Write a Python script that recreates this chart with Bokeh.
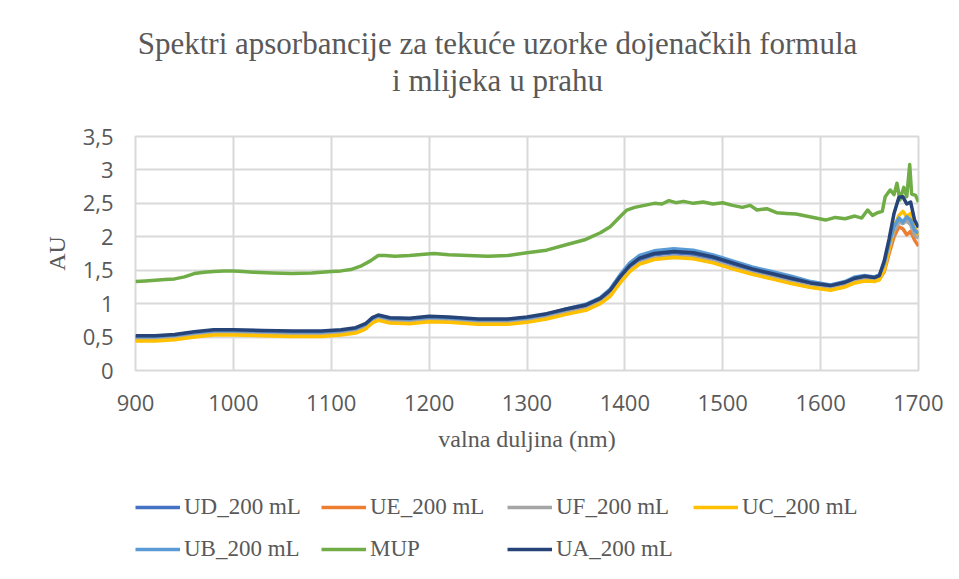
from bokeh.plotting import figure
from bokeh.models import Range1d, FixedTicker, Legend, LegendItem, Label
from bokeh.layouts import column
from bokeh.embed import file_html
from bokeh.resources import INLINE

# ---------------- data ----------------
wavelength = [900, 920, 940, 960, 980, 1000, 1030, 1060, 1090, 1110, 1125, 1135, 1142, 1148,
              1160, 1180, 1200, 1220, 1250, 1280, 1300, 1320, 1340, 1360, 1375, 1385, 1395,
              1405, 1415, 1430, 1450, 1470, 1490, 1510, 1530, 1550, 1570, 1590, 1610, 1625,
              1635, 1645, 1655, 1660, 1665, 1670, 1675, 1680, 1684, 1688, 1692, 1696, 1700]

ua_200 = [0.52, 0.52, 0.54, 0.58, 0.61, 0.61, 0.60, 0.59, 0.59, 0.61, 0.64, 0.70, 0.79, 0.83,
          0.79, 0.78, 0.81, 0.80, 0.77, 0.77, 0.80, 0.85, 0.92, 0.98, 1.08, 1.20, 1.40,
          1.57, 1.68, 1.75, 1.78, 1.76, 1.70, 1.61, 1.52, 1.45, 1.38, 1.31, 1.27, 1.32,
          1.38, 1.41, 1.39, 1.42, 1.64, 1.97, 2.35, 2.59, 2.60, 2.49, 2.52, 2.25, 2.14]

ub_200 = [0.51, 0.51, 0.53, 0.57, 0.60, 0.60, 0.59, 0.58, 0.58, 0.60, 0.63, 0.69, 0.78, 0.82,
          0.78, 0.77, 0.80, 0.79, 0.76, 0.76, 0.79, 0.84, 0.92, 0.99, 1.09, 1.22, 1.43,
          1.61, 1.72, 1.79, 1.82, 1.80, 1.73, 1.64, 1.55, 1.48, 1.41, 1.33, 1.28, 1.33,
          1.40, 1.42, 1.40, 1.43, 1.60, 1.90, 2.15, 2.28, 2.22, 2.30, 2.25, 2.10, 2.05]

ud_200 = [0.50, 0.50, 0.52, 0.56, 0.59, 0.59, 0.58, 0.57, 0.57, 0.59, 0.62, 0.68, 0.77, 0.81,
          0.77, 0.76, 0.79, 0.78, 0.75, 0.75, 0.78, 0.83, 0.90, 0.96, 1.06, 1.18, 1.38,
          1.55, 1.66, 1.73, 1.76, 1.74, 1.68, 1.59, 1.50, 1.43, 1.36, 1.29, 1.25, 1.30,
          1.36, 1.39, 1.37, 1.41, 1.58, 1.88, 2.12, 2.25, 2.20, 2.28, 2.22, 2.05, 2.00]

uf_200 = [0.46, 0.46, 0.48, 0.52, 0.55, 0.55, 0.54, 0.53, 0.53, 0.55, 0.58, 0.64, 0.73, 0.77,
          0.73, 0.72, 0.75, 0.74, 0.71, 0.71, 0.74, 0.79, 0.86, 0.92, 1.02, 1.13, 1.33,
          1.50, 1.61, 1.68, 1.71, 1.69, 1.63, 1.54, 1.46, 1.39, 1.32, 1.26, 1.22, 1.27,
          1.33, 1.36, 1.35, 1.38, 1.52, 1.82, 2.08, 2.22, 2.20, 2.24, 2.18, 2.02, 1.98]

ue_200 = [0.455, 0.455, 0.475, 0.515, 0.545, 0.545, 0.535, 0.525, 0.525, 0.545, 0.575, 0.635,
          0.725, 0.765, 0.725, 0.715, 0.745, 0.735, 0.705, 0.705, 0.735, 0.785, 0.855, 0.915,
          1.01, 1.12, 1.32, 1.49, 1.60, 1.67, 1.70, 1.68, 1.62, 1.53, 1.45, 1.38, 1.31, 1.25,
          1.21, 1.26, 1.32, 1.35, 1.34, 1.36, 1.48, 1.75, 2.00, 2.15, 2.12, 2.03, 2.08, 1.95, 1.86]

uc_200 = [0.44, 0.44, 0.46, 0.50, 0.53, 0.53, 0.52, 0.51, 0.51, 0.53, 0.56, 0.62, 0.71, 0.75,
          0.71, 0.70, 0.73, 0.72, 0.69, 0.69, 0.72, 0.77, 0.84, 0.90, 1.00, 1.11, 1.31,
          1.48, 1.59, 1.66, 1.69, 1.67, 1.61, 1.52, 1.44, 1.37, 1.30, 1.24, 1.20, 1.25,
          1.31, 1.34, 1.33, 1.36, 1.50, 1.82, 2.15, 2.32, 2.38, 2.30, 2.35, 2.15, 2.02]

mup_wavelength = [900, 910, 920, 930, 940, 950, 960, 970, 980, 990, 1000, 1010, 1020, 1040,
                  1060, 1080, 1100, 1110, 1120, 1130, 1140, 1148, 1155, 1165, 1180, 1195, 1205,
                  1220, 1240, 1260, 1280, 1300, 1320, 1340, 1360, 1375, 1385, 1395, 1402, 1410,
                  1420, 1430, 1438, 1445, 1452, 1460, 1470, 1480, 1490, 1500, 1510, 1520, 1528,
                  1535, 1545, 1555, 1565, 1575, 1585, 1595, 1605, 1615, 1625, 1635, 1642, 1648,
                  1653, 1658, 1663, 1666, 1671, 1675, 1678, 1681, 1685, 1688, 1691, 1693, 1697,
                  1700]
mup = [1.33, 1.34, 1.35, 1.36, 1.37, 1.40, 1.45, 1.47, 1.48, 1.49, 1.49, 1.48, 1.47, 1.46,
       1.45, 1.46, 1.48, 1.49, 1.51, 1.56, 1.64, 1.72, 1.72, 1.71, 1.72, 1.74, 1.75,
       1.73, 1.72, 1.71, 1.72, 1.76, 1.80, 1.88, 1.96, 2.06, 2.15, 2.30, 2.40, 2.44,
       2.47, 2.50, 2.49, 2.54, 2.51, 2.53, 2.50, 2.52, 2.49, 2.51, 2.47, 2.44, 2.47,
       2.40, 2.42, 2.36, 2.35, 2.34, 2.31, 2.28, 2.25, 2.29, 2.27, 2.31, 2.28, 2.40,
       2.32, 2.36, 2.38, 2.60, 2.70, 2.63, 2.80, 2.55, 2.74, 2.60, 3.08, 2.64, 2.62,
       2.52]

x_ticks = [900, 1000, 1100, 1200, 1300, 1400, 1500, 1600, 1700]
y_ticks = [0, 0.5, 1, 1.5, 2, 2.5, 3, 3.5]
y_tick_labels = ["0", "0,5", "1", "1,5", "2", "2,5", "3", "3,5"]

title_lines = ["Spektri apsorbancije za tekuće uzorke dojenačkih formula", "i mlijeka u prahu"]
x_title = "valna duljina (nm)"
y_title = "AU"

# ---------------- style ----------------
TEXT = "#595959"
GRID = "#d9d9d9"
SERIF = "Liberation Serif"
W = 943
FRAME_L, FRAME_R = 135, 918   # frame edges in page pixels (shared by the stacked figures)

# ---------------- title strip ----------------
TH = 120
pt = figure(width=W, height=TH, output_backend="svg", toolbar_location=None,
            x_range=Range1d(FRAME_L, FRAME_R), y_range=Range1d(0, TH),
            x_axis_type=None, y_axis_type=None, min_border=0)
pt.outline_line_color = None
pt.grid.visible = False
for text, yy in ((title_lines[0], TH - 43), (title_lines[1], TH - 80)):
    pt.add_layout(Label(x=497, y=yy, text=text, text_align="center",
                        text_baseline="middle", text_font=SERIF, text_font_size="31px",
                        text_color=TEXT))

# ---------------- main chart ----------------
p = figure(width=W, height=350, output_backend="svg", toolbar_location=None,
           x_range=Range1d(900, 1700), y_range=Range1d(0, 3.5),
           min_border_left=FRAME_L, min_border_right=W - FRAME_R, min_border_top=16,
           min_border_bottom=100)
p.background_fill_color = "white"
p.border_fill_color = "white"
p.outline_line_color = GRID
p.outline_line_width = 2

p.xaxis.ticker = FixedTicker(ticks=x_ticks)
p.yaxis.ticker = FixedTicker(ticks=y_ticks)
p.yaxis.major_label_overrides = {t: l for t, l in zip(y_ticks, y_tick_labels)}

for ax in (p.xaxis, p.yaxis):
    ax.axis_line_color = None
    ax.major_tick_line_color = None
    ax.minor_tick_line_color = None
    ax.major_tick_out = 0
    ax.major_tick_in = 0
    ax.major_label_text_font = "Open Sans"
    ax.major_label_text_font_size = "22px"
    ax.major_label_text_color = TEXT
    ax.axis_label_text_font = SERIF
    ax.axis_label_text_font_size = "24px"
    ax.axis_label_text_font_style = "normal"
    ax.axis_label_text_color = TEXT

p.xaxis.axis_label = x_title
p.yaxis.axis_label = y_title
p.xaxis.major_label_standoff = 24
p.yaxis.major_label_standoff = 22
p.xaxis.axis_label_standoff = 12
p.yaxis.axis_label_standoff = 10

p.xgrid.grid_line_color = GRID
p.ygrid.grid_line_color = GRID
p.xgrid.grid_line_width = 2
p.ygrid.grid_line_width = 2

LW = 3.5
series = [
    ("UD_200 mL", wavelength, ud_200, "#4472C4"),
    ("UE_200 mL", wavelength, ue_200, "#ED7D31"),
    ("UF_200 mL", wavelength, uf_200, "#A5A5A5"),
    ("UC_200 mL", wavelength, uc_200, "#FFC000"),
    ("UB_200 mL", wavelength, ub_200, "#5B9BD5"),
    ("MUP", mup_wavelength, mup, "#70AD47"),
    ("UA_200 mL", wavelength, ua_200, "#264478"),
]
for name, xs, ys, col in series:
    p.line(xs, ys, line_color=col, line_width=LW, line_join="round")

# ---------------- legend strip ----------------
LH = 93
pl = figure(width=W, height=LH, output_backend="svg", toolbar_location=None,
            x_range=Range1d(0, 1), y_range=Range1d(0, 1),
            x_axis_type=None, y_axis_type=None, min_border=0)
pl.outline_line_color = None
pl.grid.visible = False
swatch = {}
for name, xs, ys, col in series:
    swatch[name] = pl.line(xs, ys, line_color=col, line_width=LW, visible=False)


def make_legend(names, loc):
    lg = Legend(items=[LegendItem(label=n, renderers=[swatch[n]]) for n in names],
                orientation="horizontal", location=loc)
    lg.background_fill_alpha = 0
    lg.border_line_color = None
    lg.padding = 0
    lg.margin = 0
    lg.spacing = 9
    lg.glyph_width = 45
    lg.glyph_height = 24
    lg.label_height = 24
    lg.label_width = 128
    lg.label_standoff = 4
    lg.label_text_font = SERIF
    lg.label_text_font_size = "23px"
    lg.label_text_color = TEXT
    lg.click_policy = "none"
    return lg


pl.add_layout(make_legend(["UD_200 mL", "UE_200 mL", "UF_200 mL", "UC_200 mL"], (0, 43)))
pl.add_layout(make_legend(["UB_200 mL", "MUP", "UA_200 mL"], (0, 1)))

layout = column(pt, p, pl, spacing=0)
open("out.html", "w").write(file_html(layout, INLINE))
